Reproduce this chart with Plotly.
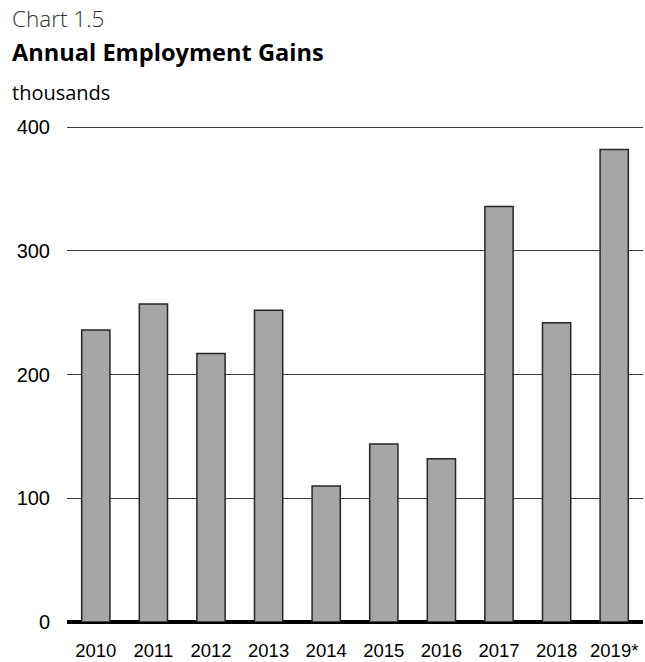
import plotly.graph_objects as go

# Annual employment gains, thousands of jobs
years = ["2010", "2011", "2012", "2013", "2014", "2015", "2016", "2017", "2018", "2019*"]
gains = [236, 257, 217, 252, 110, 144, 132, 336, 242, 382]
y_ticks = [0, 100, 200, 300, 400]

fig = go.Figure(
    go.Bar(
        x=years,
        y=gains,
        marker=dict(color="#a6a6a6", line=dict(color="#262626", width=1.5)),
        hoverinfo="x+y",
    )
)

fig.update_layout(
    width=645,
    height=662,
    margin=dict(l=67, r=2, t=126, b=40),
    plot_bgcolor="white",
    paper_bgcolor="white",
    bargap=0.51,
    showlegend=False,
    font=dict(family="Liberation Sans, Arial, sans-serif", color="#000000"),
)

fig.update_yaxes(
    range=[0, 401],
    tickvals=y_ticks,
    showgrid=True,
    gridcolor="#3a3a3a",
    gridwidth=1,
    zeroline=True,
    zerolinecolor="#000000",
    zerolinewidth=4,
    showline=False,
    ticks="",
    ticklabelstandoff=16,
    tickfont=dict(size=20, family="Liberation Sans, Arial, sans-serif", color="#000000"),
)

fig.update_xaxes(
    showgrid=False,
    showline=False,
    ticks="",
    ticklabelstandoff=15,
    tickfont=dict(size=18.5, family="Liberation Sans, Arial, sans-serif", color="#000000"),
)

# Heading block above the plot
fig.add_annotation(
    text="Chart 1.5", xref="paper", yref="paper", x=-0.099, y=1.2177,
    xanchor="left", yanchor="middle", showarrow=False,
    font=dict(family="Open Sans, sans-serif", size=22.5, color="#333333", weight=300),
)
fig.add_annotation(
    text="<b>Annual Employment Gains</b>", xref="paper", yref="paper", x=-0.099, y=1.149,
    xanchor="left", yanchor="middle", showarrow=False,
    font=dict(family="Open Sans, sans-serif", size=23.6, color="#000000"),
)
fig.add_annotation(
    text="thousands", xref="paper", yref="paper", x=-0.099, y=1.0685,
    xanchor="left", yanchor="middle", showarrow=False,
    font=dict(family="Open Sans, sans-serif", size=20, color="#000000"),
)

fig.write_html("out.html")
